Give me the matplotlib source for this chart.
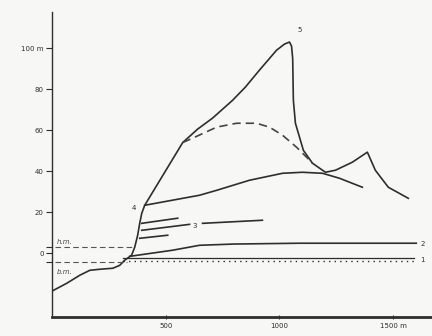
import matplotlib
matplotlib.use('Agg')
import matplotlib.pyplot as plt

# profile 5 (present dune, from the beach)
prof5_x = [0, 66, 123, 167, 210, 268, 298, 320, 350, 364, 377, 386, 395, 408, 575, 640, 706,
           794, 850, 912, 987, 1022, 1044, 1053, 1058, 1061, 1070, 1105, 1145, 1202, 1246, 1320, 1386, 1421, 1478, 1566]
prof5_y = [-18.5, -14.6, -10.7, -8.3, -7.8, -7.3, -5.9, -3.4, -1, 2.9, 8.8, 14.6, 19.5, 23.4, 54, 60.5, 65.9,
           74.6, 81, 89.3, 99, 102, 103, 101, 95, 74.6, 63.4, 50.2, 43.9, 39.5, 40.5, 44.4, 49.3, 40.5, 32.2, 26.8]

# dashed variant between knee and lee slope
dash_x = [575, 618, 724, 811, 899, 956, 1013, 1075, 1132, 1145]
dash_y = [54, 56.1, 61.5, 63.4, 63.4, 61.5, 57.6, 51.7, 45.4, 43.9]

# profile 4
prof4_x = [408, 649, 724, 868, 1013, 1101, 1189, 1263, 1364]
prof4_y = [23.4, 28.3, 30.7, 35.6, 39.0, 39.5, 39.0, 36.6, 32.2]

# profile 3 (short buried surfaces)
p3a_x = [395, 553]
p3a_y = [14.6, 17.1]
p3b_x = [395, 605]
p3b_y = [11.2, 14.1]
p3c_x = [662, 925]
p3c_y = [14.6, 16.1]
p3d_x = [386, 509]
p3d_y = [7.3, 8.8]

# profile 2
prof2_x = [342, 531, 649, 800, 1088, 1601]
prof2_y = [-1.5, 1.5, 3.9, 4.5, 4.9, 4.9]

# profile 1 (dotted)
prof1_x = [311, 1592]
prof1_y = [-2.4, -2.4]

hm, bm = 2.9, -4.4

col = '#2e2e2e'
plt.rcParams['font.family'] = 'DejaVu Sans'
fig = plt.figure(figsize=(4.32, 3.36), dpi=100)
fig.patch.set_facecolor('#f7f7f5')
ax = fig.add_axes([0.12, 0.057, 0.88, 0.907])
ax.set_facecolor('#f7f7f5')

ax.plot(prof5_x, prof5_y, color=col, lw=1.2)
ax.plot(dash_x, dash_y, color='#444444', lw=1.2, dashes=(5, 3))
ax.plot(prof4_x, prof4_y, color=col, lw=1.2)
for xs, ys in [(p3a_x, p3a_y), (p3b_x, p3b_y), (p3c_x, p3c_y), (p3d_x, p3d_y)]:
  ax.plot(xs, ys, color=col, lw=1.2)
ax.plot(prof2_x, prof2_y, color=col, lw=1.2)
ax.plot(prof1_x, prof1_y, color=col, lw=0.9)
ax.plot(prof1_x, [v - 1.2 for v in prof1_y], color=col, lw=1.0, linestyle=(0, (1, 3)))

# tide levels
ax.plot([13, 364], [hm, hm], color='#555555', lw=0.8, dashes=(5, 3))
ax.plot([13, 329], [bm, bm], color='#555555', lw=0.8, dashes=(5, 3))
ax.text(22, hm + 1.5, 'h.m.', fontsize=5, style='italic', color='#444444')
ax.text(22, bm - 5.5, 'b.m.', fontsize=5, style='italic', color='#444444')

# curve labels
ax.text(1080, 108, '5', fontsize=5, color=col)
ax.text(350, 21, '4', fontsize=5, color=col)
ax.text(617, 12.5, '3', fontsize=5, color=col)
ax.text(1620, 3.6, '2', fontsize=5, color=col)
ax.text(1620, -4.2, '1', fontsize=5, color=col)

ax.set_xlim(0, 1670)
ax.set_ylim(-31, 117.6)
for s in ['top', 'right']:
  ax.spines[s].set_visible(False)
ax.spines['left'].set_linewidth(1.0)
ax.spines['bottom'].set_linewidth(2.0)
ax.spines['left'].set_color(col)
ax.spines['bottom'].set_color(col)

ax.set_yticks([0, 20, 40, 60, 80, 100, hm, bm])
ax.set_yticklabels(['0', '20', '40', '60', '80', '100 m', '', ''])
ax.set_xticks([500, 1000, 1500])
ax.set_xticklabels(['500', '1000', '1500 m'])
ax.tick_params(axis='y', length=4, width=0.8, labelsize=5, pad=2, colors=col)
ax.tick_params(axis='x', length=3, width=0.8, labelsize=5, pad=3, colors=col, direction='inout')

fig.savefig('out.png', dpi=100, facecolor=fig.get_facecolor())
